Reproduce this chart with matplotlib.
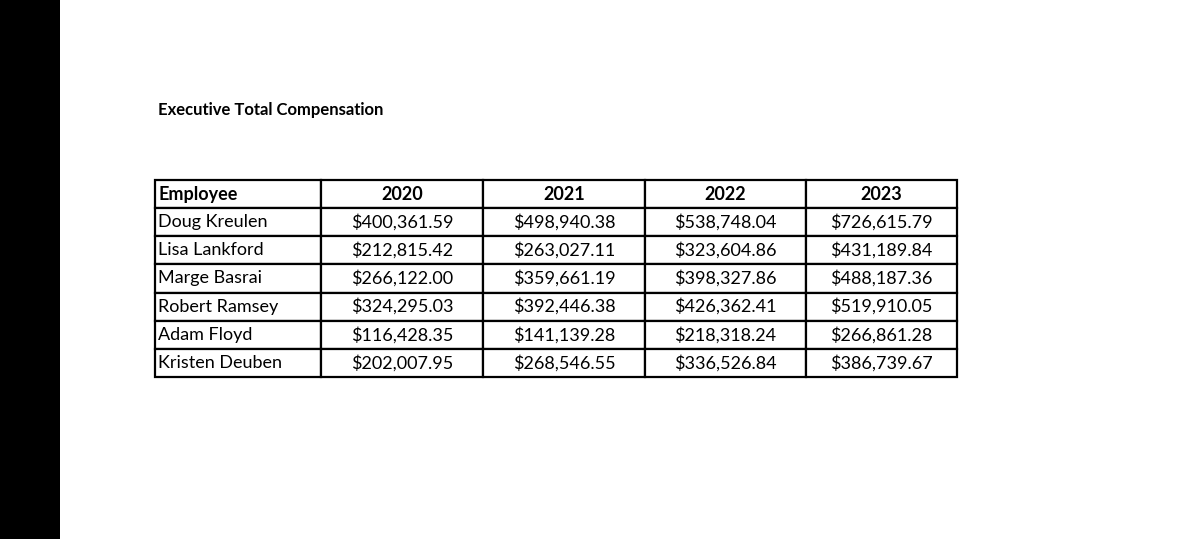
import matplotlib
matplotlib.use('Agg')
import matplotlib.pyplot as plt
from matplotlib.patches import Rectangle

plt.rcParams['font.family'] = ['Lato', 'DejaVu Sans']

title = 'Executive Total Compensation'
years = ['2020', '2021', '2022', '2023']
employees = ['Doug Kreulen', 'Lisa Lankford', 'Marge Basrai', 'Robert Ramsey',
             'Adam Floyd', 'Kristen Deuben']
comp_2020 = [400361.59, 212815.42, 266122.00, 324295.03, 116428.35, 202007.95]
comp_2021 = [498940.38, 263027.11, 359661.19, 392446.38, 141139.28, 268546.55]
comp_2022 = [538748.04, 323604.86, 398327.86, 426362.41, 218318.24, 336526.84]
comp_2023 = [726615.79, 431189.84, 488187.36, 519910.05, 266861.28, 386739.67]

W, H = 1200, 539
fig = plt.figure(figsize=(W / 100, H / 100), dpi=100)
fig.patch.set_facecolor('white')

# black strip on the left edge
fig.add_artist(Rectangle((0, 0), 60 / W, 1, transform=fig.transFigure,
                         facecolor='black', edgecolor='none'))

fig.text(158 / W, 1 - 110 / H, title, fontsize=12, fontweight='bold',
         va='center', ha='left')

ax = fig.add_axes([155 / W, 1 - 377 / H, 802 / W, 197 / H])
ax.axis('off')

cells = []
for i, name in enumerate(employees):
    vals = [comp_2020[i], comp_2021[i], comp_2022[i], comp_2023[i]]
    cells.append([name] + [f'${v:,.2f}' for v in vals])

col_w = [166, 162, 162, 161, 151]
col_w = [c / sum(col_w) for c in col_w]
tab = ax.table(cellText=cells, colLabels=['Employee'] + years,
               colWidths=col_w, bbox=[0, 0, 1, 1], cellLoc='center')
tab.auto_set_font_size(False)
for (r, c), cell in tab.get_celld().items():
    cell.set_linewidth(1.6)
    cell.set_edgecolor('black')
    cell.get_text().set_fontsize(13)
    if r == 0:
        cell.get_text().set_fontweight('bold')
    if c == 0:
        cell.get_text().set_ha('left')
        cell.PAD = 0.02
        cell._loc = 'left'

fig.savefig('out.png', dpi=100)
